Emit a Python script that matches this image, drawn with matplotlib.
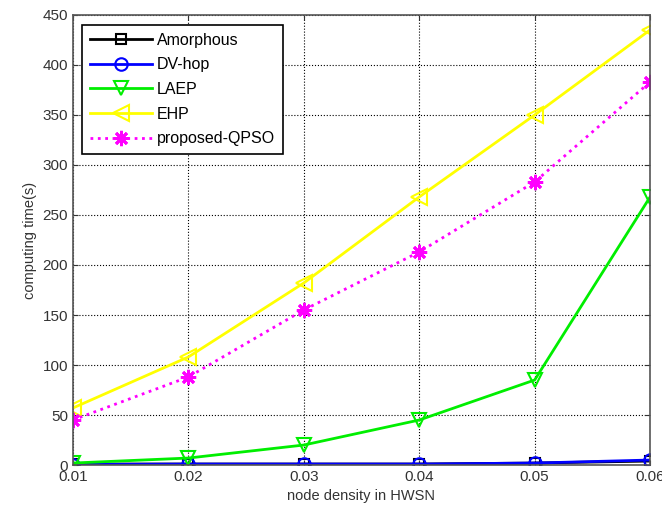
import matplotlib
matplotlib.use("Agg")
import matplotlib.pyplot as plt

plt.rcParams['font.family'] = ['Liberation Sans', 'DejaVu Sans']

x = [0.01, 0.02, 0.03, 0.04, 0.05, 0.06]
amorphous = [1, 1, 1, 1, 2, 4]
dvhop = [0.5, 1, 1, 1, 2, 5]
laep = [2, 7, 20, 45, 85, 268]
ehp = [57, 108, 182, 268, 350, 435]
qpso = [45, 88, 155, 213, 283, 383]

fig = plt.figure(figsize=(6.62, 5.15), dpi=100)
ax = fig.add_axes([0.110, 0.097, 0.872, 0.874])

ax.plot(x, amorphous, color='black', marker='s', mfc='none', ms=7, mew=1.5, lw=2, label='Amorphous')
ax.plot(x, dvhop, color='blue', marker='o', mfc='none', ms=9, mew=1.5, lw=2, label='DV-hop')
ax.plot(x, laep, color='#00ee00', marker='v', mfc='none', ms=10, mew=1.5, lw=2, label='LAEP')
ax.plot(x, ehp, color='#ffff00', marker='<', mfc='none', ms=11, mew=1.5, lw=2, label='EHP')
ax.plot(x, qpso, color='magenta', marker=(8, 2, 0), ms=11, mew=2, lw=2, ls=':', label='proposed-QPSO')

ax.set_xlim(0.01, 0.06)
ax.set_ylim(0, 450)
ax.set_xticks(x)
ax.set_xticklabels(['0.01', '0.02', '0.03', '0.04', '0.05', '0.06'])
ax.set_yticks(range(0, 451, 50))
ax.grid(True, color='black', ls=':', lw=0.8)
ax.tick_params(direction='in', top=True, right=True, labelsize=11, colors='#333333')
for s in ax.spines.values():
    s.set_color('#555555')
    s.set_linewidth(1.2)
ax.set_xlabel('node density in HWSN', fontsize=10.5, color='#333333')
ax.set_ylabel('computing time(s)', fontsize=10.5, color='#333333')

leg = ax.legend(loc='upper left', fontsize=11.5, fancybox=False, framealpha=1,
                edgecolor='black', borderpad=0.5, labelspacing=0.6, handlelength=3.9,
                handletextpad=0.3, borderaxespad=0, bbox_to_anchor=(0.016, 0.978))
leg.get_frame().set_linewidth(1.2)

fig.savefig('out.png', dpi=100)
